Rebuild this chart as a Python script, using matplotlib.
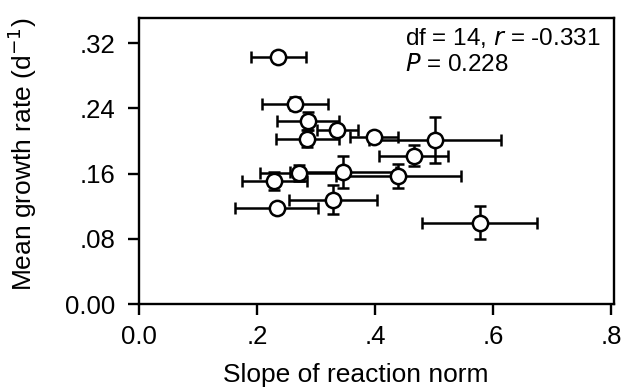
import matplotlib
matplotlib.use('Agg')
import matplotlib.pyplot as plt

plt.rcParams['font.family'] = ['Liberation Sans', 'DejaVu Sans']

# slope of reaction norm and mean growth rate, with their errors
slope = [0.236, 0.264, 0.286, 0.336, 0.285, 0.398, 0.501, 0.465,
         0.271, 0.346, 0.439, 0.229, 0.328, 0.233, 0.577]
slope_err = [0.047, 0.056, 0.053, 0.035, 0.054, 0.041, 0.112, 0.059,
             0.066, 0.090, 0.106, 0.055, 0.075, 0.070, 0.098]
growth = [0.303, 0.246, 0.225, 0.213, 0.203, 0.205, 0.201, 0.182,
          0.161, 0.162, 0.157, 0.151, 0.128, 0.118, 0.100]
growth_err = [0.004, 0.008, 0.011, 0.005, 0.010, 0.004, 0.028, 0.013,
              0.010, 0.020, 0.015, 0.011, 0.018, 0.005, 0.020]

xticks = [0.0, 0.2, 0.4, 0.6, 0.8]
xticklabels = ['0.0', '.2', '.4', '.6', '.8']
yticks = [0.0, 0.08, 0.16, 0.24, 0.32]
yticklabels = ['0.00', '.08', '.16', '.24', '.32']

fig = plt.figure(figsize=(6.26, 3.91), dpi=100)
ax = fig.add_axes([0.2225, 0.2225, 0.7585, 0.7315])

ax.errorbar(slope, growth, xerr=slope_err, yerr=growth_err, fmt='o',
            color='black', ecolor='black', elinewidth=1.8, capsize=4.5,
            capthick=1.8, markersize=11, markerfacecolor='white',
            markeredgecolor='black', markeredgewidth=1.8)

ax.set_xlim(0, 0.805)
ax.set_ylim(0, 0.351)
ax.set_xticks(xticks)
ax.set_xticklabels(xticklabels)
ax.set_yticks(yticks)
ax.set_yticklabels(yticklabels)
ax.tick_params(direction='out', length=8, width=1.7, labelsize=18.5,
               top=False, right=False)
ax.tick_params(axis='y', pad=9)
ax.tick_params(axis='x', pad=7)
for s in ax.spines.values():
    s.set_linewidth(1.7)

ax.set_xlabel('Slope of reaction norm', fontsize=19, labelpad=10)
ax.set_ylabel('Mean growth rate (d$^{-1}$)', fontsize=19, labelpad=19)
# labels sit a bit off-centre in the original
ax.xaxis.label.set_x(0.456)
ax.yaxis.label.set_y(0.524)

ax.text(0.56, 0.93, 'df = 14, $\\it{r}$ = -0.331', transform=ax.transAxes,
        fontsize=17.5, va='center')
ax.text(0.56, 0.835, '$\\it{P}$ = 0.228', transform=ax.transAxes,
        fontsize=17.5, va='center')

fig.savefig('out.png', dpi=100)
